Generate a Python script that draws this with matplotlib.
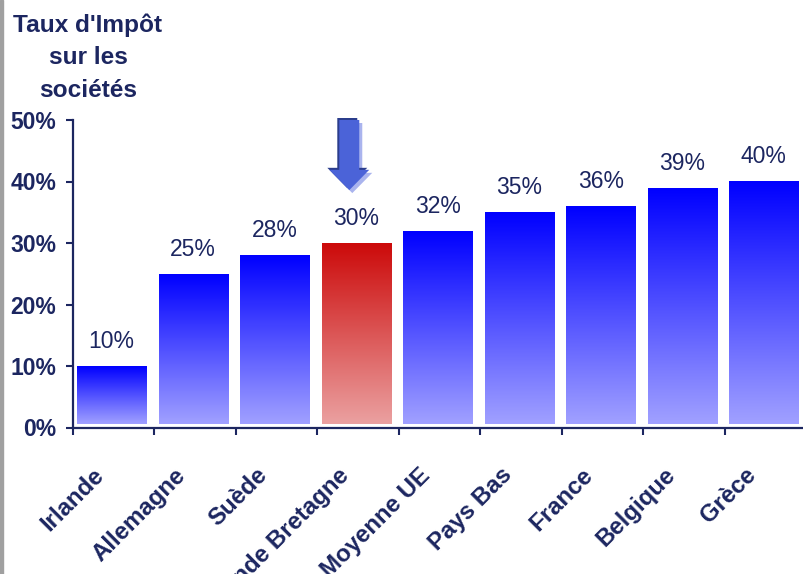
import numpy as np
import matplotlib
matplotlib.use("Agg")
import matplotlib.pyplot as plt
from matplotlib.patches import FancyArrow, Rectangle
from matplotlib.transforms import ScaledTranslation, offset_copy

# Corporate tax rates (%)
countries = ["Irlande", "Allemagne", "Suède", "Grande Bretagne", "Moyenne UE",
             "Pays Bas", "France", "Belgique", "Grèce"]
rates = [10, 25, 28, 30, 32, 35, 36, 39, 40]
value_labels = ["10%", "25%", "28%", "30%", "32%", "35%", "36%", "39%", "40%"]
highlight = "Grande Bretagne"
y_ticks = [0, 10, 20, 30, 40, 50]
y_tick_labels = ["0%", "10%", "20%", "30%", "40%", "50%"]
title_lines = ["Taux d'Impôt", "sur les", "sociétés"]

NAVY = "#1c2660"
plt.rcParams["font.family"] = ["Liberation Sans", "DejaVu Sans"]

W, H = 804, 574
fig = plt.figure(figsize=(W / 100, H / 100), dpi=100)
ax = fig.add_axes([73 / W, 1 - 427.5 / H, 733.5 / W, 307.5 / H])

# gradient bars: strong colour at the top fading to pale at the base
bar_shift, bar_width, base = -0.025, 0.847, 0.65
blue_grad = np.array([[0.0, 0.0, 1.0], [0.63, 0.63, 1.0]])
red_grad = np.array([[0.80, 0.04, 0.04], [0.92, 0.63, 0.63]])
x = np.arange(len(countries)) + bar_shift
bars = ax.bar(x, np.array(rates) - base, bottom=base, width=bar_width,
              color="none", edgecolor="none")
t = np.linspace(0, 1, 256)[:, None]
for bar, name in zip(bars, countries):
    g = red_grad if name == highlight else blue_grad
    img = (g[0] * (1 - t) + g[1] * t)[:, None, :]
    x0, y0 = bar.get_x(), bar.get_y()
    ax.imshow(img, extent=[x0, x0 + bar.get_width(), y0, y0 + bar.get_height()],
              origin="upper", aspect="auto", interpolation="bilinear", zorder=2)
ax.set_xlim(-0.5, len(countries) - 0.5)
ax.set_ylim(0, 50)

# value labels above the bars
for bar, lab in zip(bars, value_labels):
    ax.annotate(lab, (bar.get_x() + bar.get_width() / 2, bar.get_y() + bar.get_height()),
                xytext=(0, 13), textcoords="offset points", ha="center", va="baseline",
                fontsize=16.5, color=NAVY)

# arrow pointing at the highlighted bar
hi = countries.index(highlight)
arrow_kw = dict(x=hi - 0.11, y=50, dx=0, dy=-11.4, width=0.245, head_width=0.49,
                head_length=3.3, length_includes_head=True, clip_on=False,
                linewidth=0)
shadow = FancyArrow(**arrow_kw, color="#aab4ee", zorder=4,
                    transform=offset_copy(ax.transData, fig=fig, x=3, y=-3, units="dots"))
edge = FancyArrow(**arrow_kw, color="#2b3d8c", zorder=5,
                  transform=offset_copy(ax.transData, fig=fig, x=-2, y=2, units="dots"))
main = FancyArrow(**arrow_kw, color="#4b63d8", zorder=6)
for a in (shadow, edge, main):
    ax.add_patch(a)

# axes styling
for s in ("top", "right"):
    ax.spines[s].set_visible(False)
for s in ("left", "bottom"):
    ax.spines[s].set_color(NAVY)
    ax.spines[s].set_linewidth(1.6)
ax.set_yticks(y_ticks)
ax.set_yticklabels(y_tick_labels, fontsize=16.5, fontweight="bold", color=NAVY)
ax.tick_params(axis="y", direction="out", length=5, width=1.5, color=NAVY, pad=7)

ax.set_xticks(np.arange(len(countries) + 1) - 0.5)
ax.set_xticklabels([])
ax.tick_params(axis="x", which="major", direction="out", length=5, width=1.5, color=NAVY)
ax.set_xticks(np.arange(len(countries)), minor=True)
ax.set_xticklabels(countries, minor=True, rotation=45, ha="right", va="top",
                   rotation_mode="anchor", fontsize=17.3, fontweight="bold", color=NAVY)
ax.tick_params(axis="x", which="minor", length=0, pad=26)
for lab in ax.get_xticklabels(minor=True):
    lab.set_transform(lab.get_transform() + ScaledTranslation(-21 / 100, 0, fig.dpi_scale_trans))

# title in the top-left corner
for i, line in enumerate(title_lines):
    fig.text(88 / W, 1 - (32 + 32.5 * i) / H, line, ha="center", va="baseline",
             fontsize=17.6, fontweight="bold", color=NAVY)

# grey frame line on the left edge
fig.add_artist(Rectangle((0, 0), 3 / W, 1, transform=fig.transFigure,
                         color="#a0a0a0", zorder=10))

fig.savefig("out.png", dpi=100)
